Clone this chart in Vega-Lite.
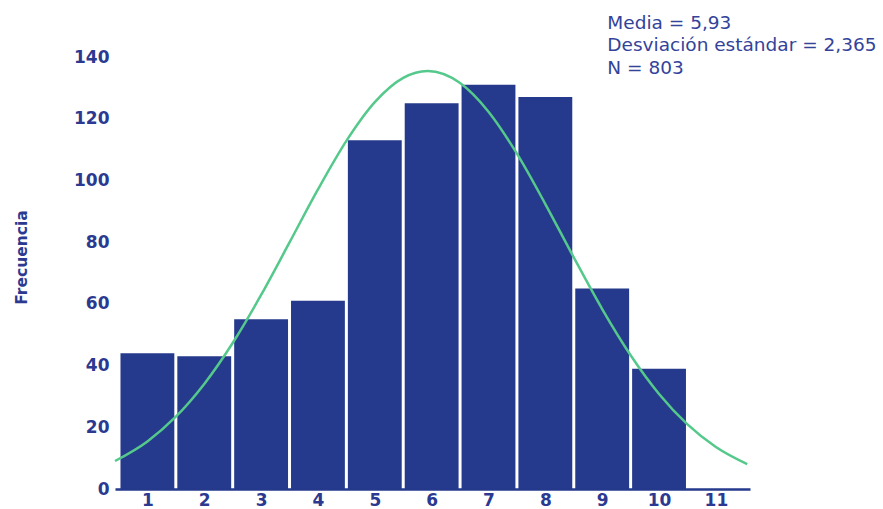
{
  "$schema": "https://vega.github.io/schema/vega-lite/v6.json",
  "width": 635,
  "height": 432,
  "autosize": {"type": "none"},
  "padding": {"left": 115, "top": 57, "right": 133, "bottom": 20},
  "background": "white",
  "config": {"view": {"stroke": null}, "font": "DejaVu Sans"},
  "datasets": {
    "bars": [
      {"valor": 1, "desde": 0.5, "hasta": 1.5, "frecuencia": 44},
      {"valor": 2, "desde": 1.5, "hasta": 2.5, "frecuencia": 43},
      {"valor": 3, "desde": 2.5, "hasta": 3.5, "frecuencia": 55},
      {"valor": 4, "desde": 3.5, "hasta": 4.5, "frecuencia": 61},
      {"valor": 5, "desde": 4.5, "hasta": 5.5, "frecuencia": 113},
      {"valor": 6, "desde": 5.5, "hasta": 6.5, "frecuencia": 125},
      {"valor": 7, "desde": 6.5, "hasta": 7.5, "frecuencia": 131},
      {"valor": 8, "desde": 7.5, "hasta": 8.5, "frecuencia": 127},
      {"valor": 9, "desde": 8.5, "hasta": 9.5, "frecuencia": 65},
      {"valor": 10, "desde": 9.5, "hasta": 10.5, "frecuencia": 39},
      {"valor": 11, "desde": 10.5, "hasta": 11.5, "frecuencia": 0}
    ],
    "curva": [
      {"x": 0.43, "y": 9.07},
      {"x": 1.0, "y": 15.42},
      {"x": 1.5, "y": 23.43},
      {"x": 2.0, "y": 34.06},
      {"x": 2.5, "y": 47.32},
      {"x": 3.0, "y": 62.88},
      {"x": 3.5, "y": 79.9},
      {"x": 4.0, "y": 97.09},
      {"x": 4.5, "y": 112.83},
      {"x": 5.0, "y": 125.38},
      {"x": 5.5, "y": 133.24},
      {"x": 5.93, "y": 135.46},
      {"x": 6.5, "y": 131.58},
      {"x": 7.0, "y": 122.28},
      {"x": 7.5, "y": 108.67},
      {"x": 8.0, "y": 92.35},
      {"x": 8.5, "y": 75.05},
      {"x": 9.0, "y": 58.33},
      {"x": 9.5, "y": 43.35},
      {"x": 10.0, "y": 30.81},
      {"x": 10.5, "y": 20.94},
      {"x": 11.0, "y": 13.61},
      {"x": 11.55, "y": 8.05}
    ]
  },
  "layer": [
    {
      "data": {"name": "bars"},
      "mark": {"type": "bar", "color": "#253A8C", "xOffset": 1.5, "x2Offset": -1.5},
      "encoding": {
        "x": {
          "field": "desde",
          "type": "quantitative",
          "scale": {"domain": [0.43, 11.6], "nice": false, "zero": false},
          "axis": {
            "values": [1, 2, 3, 4, 5, 6, 7, 8, 9, 10, 11],
            "format": "d",
            "title": null,
            "grid": false,
            "ticks": false,
            "domainColor": "#253A8C",
            "domainWidth": 2.5,
            "labelColor": "#2B3990",
            "labelFont": "DejaVu Sans",
            "labelFontWeight": "bold",
            "labelFontSize": 17,
            "labelPadding": 3,
            "labelFlush": false,
            "zindex": 1
          }
        },
        "x2": {"field": "hasta"},
        "y": {
          "field": "frecuencia",
          "type": "quantitative",
          "scale": {"domain": [0, 140], "nice": false},
          "axis": {
            "values": [0, 20, 40, 60, 80, 100, 120, 140],
            "title": "Frecuencia",
            "titleColor": "#2B3990",
            "titleFont": "DejaVu Sans",
            "titleFontWeight": "bold",
            "titleFontSize": 15.5,
            "titleAngle": -90,
            "titleBaseline": "middle",
            "titleAlign": "center",
            "titleX": -94,
            "titleY": 200,
            "grid": false,
            "ticks": false,
            "domain": false,
            "labelColor": "#2B3990",
            "labelFont": "DejaVu Sans",
            "labelFontWeight": "bold",
            "labelFontSize": 17,
            "labelPadding": 6
          }
        },
        "y2": {"datum": 0}
      }
    },
    {
      "data": {"name": "curva"},
      "mark": {"type": "line", "color": "#55C98B", "strokeWidth": 2.5, "interpolate": "monotone"},
      "encoding": {
        "x": {"field": "x", "type": "quantitative"},
        "y": {"field": "y", "type": "quantitative"}
      }
    },
    {
      "data": {"values": [{"texto": ["Media = 5,93", "Desviación estándar = 2,365", "N = 803"]}]},
      "mark": {"type": "text", "align": "left", "baseline": "alphabetic", "fontSize": 18.5, "lineHeight": 22.5, "color": "#33439A", "font": "DejaVu Sans"},
      "encoding": {
        "x": {"datum": 9.09, "type": "quantitative"},
        "y": {"datum": 149.2, "type": "quantitative"},
        "text": {"field": "texto"}
      }
    }
  ]
}
